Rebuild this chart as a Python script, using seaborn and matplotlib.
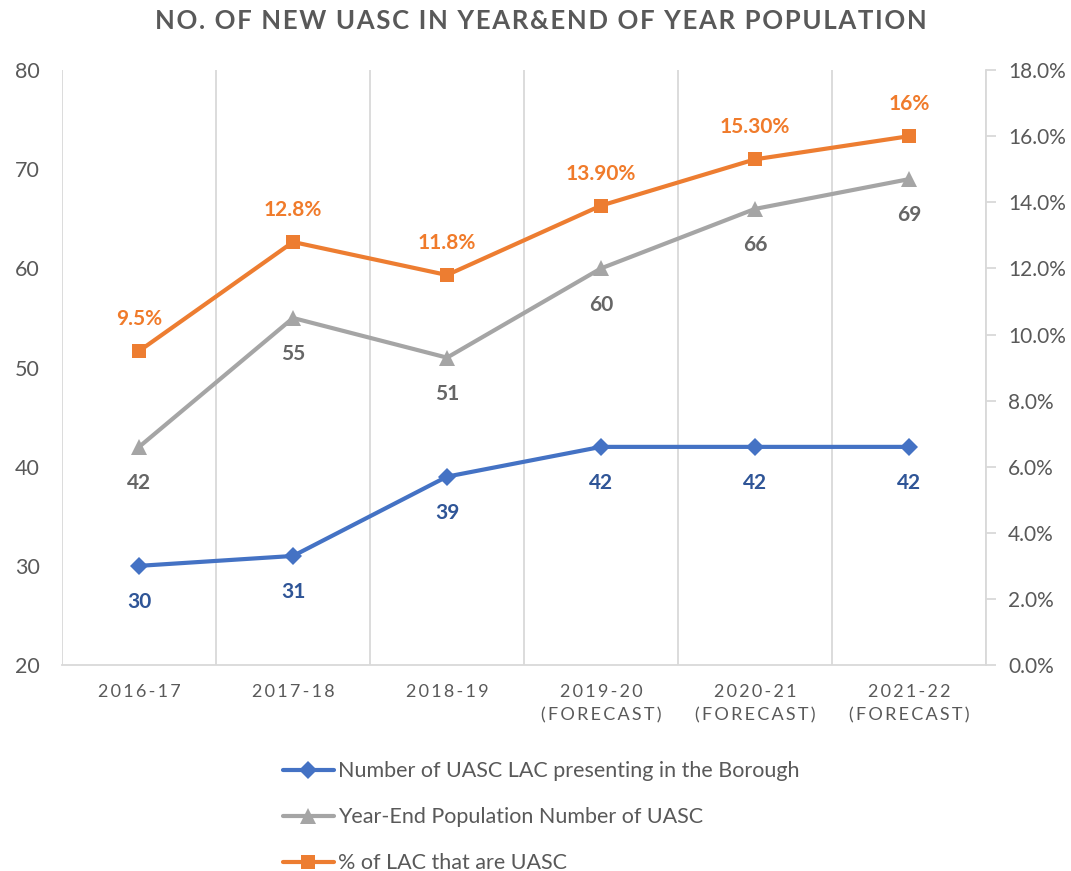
import matplotlib
matplotlib.use('Agg')
import matplotlib.pyplot as plt
import seaborn as sns
from matplotlib.ticker import PercentFormatter

# data
years = ['2016-17', '2017-18', '2018-19', '2019-20\n(FORECAST)', '2020-21\n(FORECAST)', '2021-22\n(FORECAST)']
new_uasc = [30, 31, 39, 42, 42, 42]
year_end_pop = [42, 55, 51, 60, 66, 69]
pct_uasc = [9.5, 12.8, 11.8, 13.9, 15.3, 16.0]
pct_labels = ['9.5%', '12.8%', '11.8%', '13.90%', '15.30%', '16%']

sns.set_style('white')
plt.rcParams['font.family'] = ['Lato', 'DejaVu Sans']

BLUE = '#4472C4'
GREY = '#A5A5A5'
ORANGE = '#ED7D31'
TXT = '#595959'
LINE = '#D9D9D9'


def spaced(s, sep='\u2009'):
    # fake the letter spacing Excel uses on axis labels / title
    return '\n'.join(sep.join(part) for part in s.split('\n'))


fig = plt.figure(figsize=(10.71, 8.71), dpi=100)
ax = fig.add_axes([0.058, 0.2365, 0.8625, 0.683])
ax2 = ax.twinx()

xs = list(range(len(years)))

sns.lineplot(x=xs, y=new_uasc, ax=ax, color=BLUE, lw=3, marker='D', markersize=9,
             markeredgewidth=0, label='Number of UASC LAC presenting in the Borough', legend=False)
sns.lineplot(x=xs, y=year_end_pop, ax=ax, color=GREY, lw=3, marker='^', markersize=11,
             markeredgewidth=0, label='Year-End Population Number of UASC', legend=False)
sns.lineplot(x=xs, y=pct_uasc, ax=ax2, color=ORANGE, lw=3, marker='s', markersize=10,
             markeredgewidth=0, label='% of LAC that are UASC', legend=False)

# data labels
for x, v in zip(xs, new_uasc):
    ax.annotate(str(v), (x, v), xytext=(0, -26), textcoords='offset points', ha='center', va='center',
                fontsize=15, fontweight='bold', color='#2F5597')
for x, v in zip(xs, year_end_pop):
    ax.annotate(str(v), (x, v), xytext=(0, -26), textcoords='offset points', ha='center', va='center',
                fontsize=15, fontweight='bold', color='#666666')
for x, v, t in zip(xs, pct_uasc, pct_labels):
    ax2.annotate(t, (x, v), xytext=(0, 23), textcoords='offset points', ha='center', va='center',
                 fontsize=15, fontweight='bold', color='#F07B2B')

ax.set_xlim(-0.5, len(years) - 0.5)
ax.set_ylim(20, 80)
ax.set_yticks(range(20, 81, 10))
ax2.set_ylim(0, 18)
ax2.set_yticks(range(0, 19, 2))
ax2.yaxis.set_major_formatter(PercentFormatter(decimals=1))

ax.set_xticks(xs)
ax.set_xticklabels([spaced(y) for y in years], fontsize=13, color=TXT, linespacing=1.55)
ax.set_xticks([i - 0.5 for i in range(len(years) + 1)], minor=True)
ax.grid(which='minor', axis='x', color=LINE, lw=1.3)
ax.grid(which='major', visible=False)
ax2.grid(False)

for a in (ax, ax2):
    for s in ('top', 'left', 'right'):
        a.spines[s].set_visible(False)
    a.spines['bottom'].set_color(LINE)
    a.spines['bottom'].set_linewidth(1.3)
ax.tick_params(axis='both', which='both', length=0, colors=TXT)
ax.tick_params(axis='x', labelsize=13, pad=14)
ax.tick_params(axis='y', labelsize=15.5, pad=16)
ax2.spines['right'].set_visible(True)
ax2.spines['right'].set_color(LINE)
ax2.spines['right'].set_linewidth(1.3)
ax2.spines['bottom'].set_visible(False)
ax2.tick_params(axis='y', direction='out', length=7, width=1.3, color=LINE,
                labelcolor=TXT, labelsize=15, pad=9)
ax.set_xlabel('')
ax.set_ylabel('')
ax2.set_ylabel('')

fig.suptitle(spaced('NO. OF NEW UASC IN YEAR&END OF YEAR POPULATION', '\u200a'), x=0.505, y=0.99,
             fontsize=18.5, fontweight='bold', color=TXT)

h1, l1 = ax.get_legend_handles_labels()
h2, l2 = ax2.get_legend_handles_labels()
fig.legend(h1 + h2, l1 + l2, loc='upper center', bbox_to_anchor=(0.505, 0.148), ncol=1, frameon=False,
           fontsize=15.5, labelcolor=TXT, handlelength=2.4, handletextpad=0.15, labelspacing=1.2)

fig.savefig('out.png', dpi=100)
